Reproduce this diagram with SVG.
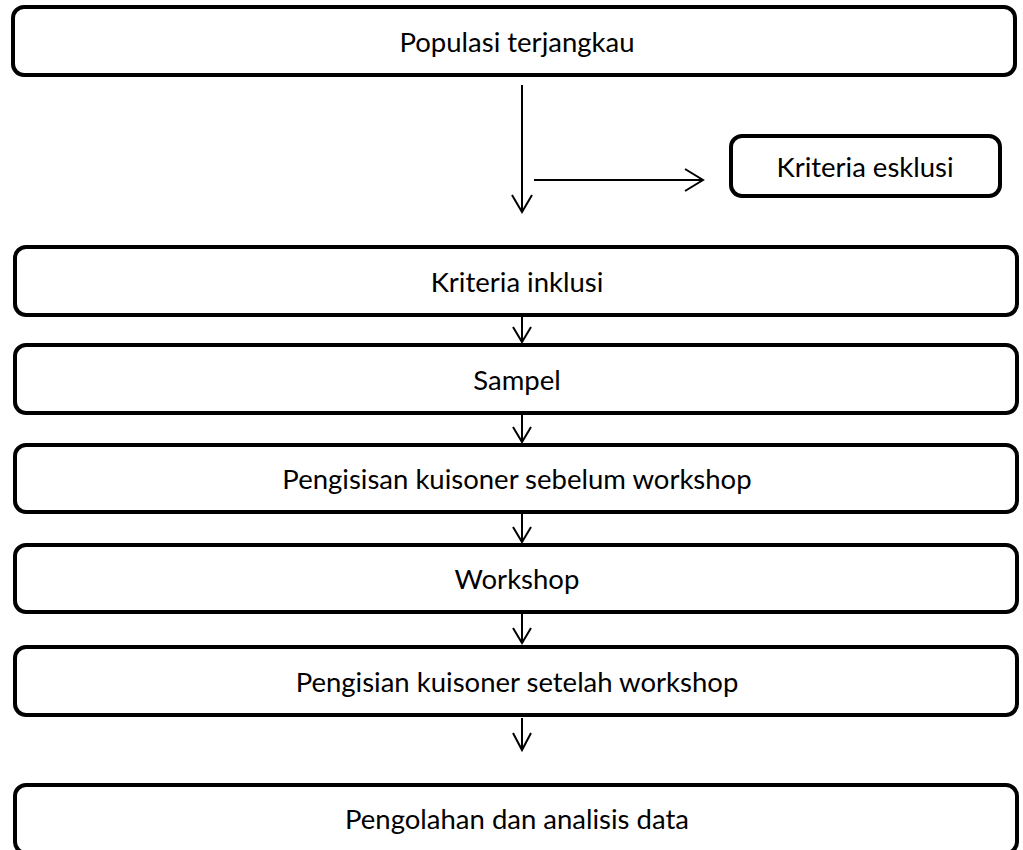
<svg xmlns="http://www.w3.org/2000/svg" width="1023" height="850" viewBox="0 0 1023 850">
<style>
.box{fill:#fff;stroke:#000;stroke-width:4}
.lbl{font-family:Lato,"Open Sans",sans-serif;font-size:27.5px;fill:#000;text-anchor:middle;dominant-baseline:central}
.ln{stroke:#000;stroke-width:2;fill:none}
</style>
<rect width="1023" height="850" fill="#fff"/>
<g id="connectors">
<line class="ln" x1="522" y1="85" x2="522" y2="212"/>
<polyline class="ln" points="512,195 522,212 532,195"/>
<line class="ln" x1="534" y1="180" x2="703" y2="180"/>
<polyline class="ln" points="685,169 703,180 685,191"/>
<line class="ln" x1="522" y1="317" x2="522" y2="342"/>
<polyline class="ln" points="513,327 522,342 531,327"/>
<line class="ln" x1="522" y1="415" x2="522" y2="442"/>
<polyline class="ln" points="513,427 522,442 531,427"/>
<line class="ln" x1="522" y1="514" x2="522" y2="542"/>
<polyline class="ln" points="513,527 522,542 531,527"/>
<line class="ln" x1="522" y1="614" x2="522" y2="643"/>
<polyline class="ln" points="513,628 522,643 531,628"/>
<line class="ln" x1="522" y1="718" x2="522" y2="750"/>
<polyline class="ln" points="513,733 522,750 531,733"/>
</g>
<g id="populasi"><rect class="box" x="13" y="7" width="1002" height="68" rx="11"/><text class="lbl" x="517" y="41">Populasi terjangkau</text></g>
<g id="eksklusi"><rect class="box" x="731" y="136" width="269" height="60" rx="11"/><text class="lbl" x="865" y="166">Kriteria esklusi</text></g>
<g id="inklusi"><rect class="box" x="15" y="247" width="1002" height="68" rx="11"/><text class="lbl" x="517" y="281">Kriteria inklusi</text></g>
<g id="sampel"><rect class="box" x="15" y="345" width="1002" height="68" rx="11"/><text class="lbl" x="517" y="379">Sampel</text></g>
<g id="sebelum"><rect class="box" x="15" y="445" width="1002" height="67" rx="11"/><text class="lbl" x="517" y="478">Pengisisan kuisoner sebelum workshop</text></g>
<g id="workshop"><rect class="box" x="15" y="545" width="1002" height="67" rx="11"/><text class="lbl" x="517" y="578">Workshop</text></g>
<g id="setelah"><rect class="box" x="15" y="647" width="1002" height="68" rx="11"/><text class="lbl" x="517" y="681">Pengisian kuisoner setelah workshop</text></g>
<g id="pengolahan"><rect class="box" x="15" y="785" width="1002" height="68" rx="11"/><text class="lbl" x="517" y="818">Pengolahan dan analisis data</text></g>
</svg>
